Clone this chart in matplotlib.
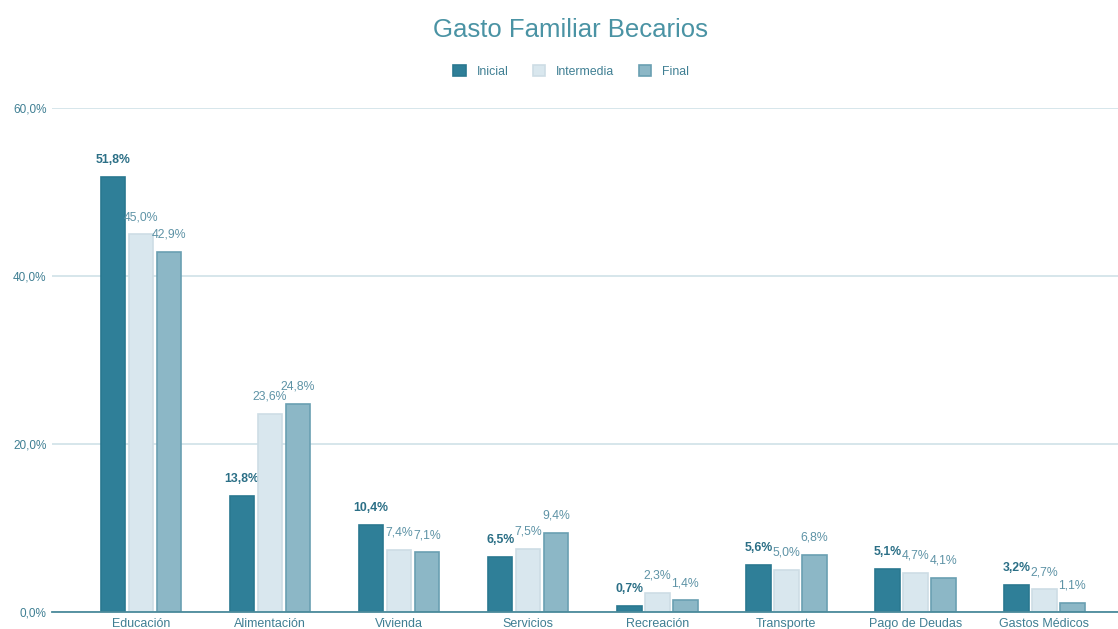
import matplotlib.pyplot as plt
import numpy as np

# données
categorias = ["Educación", "Alimentación", "Vivienda", "Servicios", "Recreación",
              "Transporte", "Pago de Deudas", "Gastos Médicos"]
inicial = [51.8, 13.8, 10.4, 6.5, 0.7, 5.6, 5.1, 3.2]
intermedia = [45.0, 23.6, 7.4, 7.5, 2.3, 5.0, 4.7, 2.7]
final = [42.9, 24.8, 7.1, 9.4, 1.4, 6.8, 4.1, 1.1]
series = ["Inicial", "Intermedia", "Final"]
yticks = [0, 20, 40, 60]

colores = ["#2f7f98", "#d9e7ee", "#8cb7c6"]
bordes = ["#2a7890", "#cddde5", "#6a9fb2"]
col_etiq = ["#2b6f86", "#5e93a6", "#5e93a6"]

plt.rcParams['font.family'] = ['Liberation Sans', 'DejaVu Sans']

fig = plt.figure(figsize=(11.18, 6.29), dpi=100)
ax = fig.add_axes([0.0465, 0.027, 0.9535, 0.801])

x = np.arange(len(categorias))
w = 0.19
paso = 0.217
for i, (nombre, vals) in enumerate(zip(series, [inicial, intermedia, final])):
    pos = x + (i - 1) * paso
    barras = ax.bar(pos, vals, width=w, color=colores[i], edgecolor=bordes[i],
                    linewidth=1.2, label=nombre, zorder=3)
    for b, v in zip(barras, vals):
        ax.annotate(f"{v:.1f}%".replace(".", ","),
                    (b.get_x() + b.get_width() / 2, v),
                    xytext=(0, 8), textcoords="offset points",
                    ha="center", va="bottom", fontsize=8.8,
                    color=col_etiq[i], fontweight="semibold" if i == 0 else "normal")

ax.set_ylim(0, 60)
ax.set_xlim(-0.69, 7.57)
ax.set_yticks(yticks)
ax.set_yticklabels([f"{t:.1f}%".replace(".", ",") for t in yticks],
                   fontsize=8.5, color="#3f7f93")
ax.set_xticks(x)
ax.set_xticklabels(categorias, fontsize=9, color="#3f7f93")
ax.tick_params(axis="x", length=0, pad=4)
ax.tick_params(axis="y", length=0, pad=4)
ax.yaxis.grid(True, color="#cfe1e8", linewidth=1.2, zorder=0)
for s in ["top", "right", "left"]:
    ax.spines[s].set_visible(False)
ax.spines["bottom"].set_color("#4b8a9b")
ax.spines["bottom"].set_linewidth(1.3)
ax.spines["bottom"].set_zorder(4)

fig.text(0.51, 0.953, "Gasto Familiar Becarios", ha="center", va="center",
         fontsize=18.5, color="#4a93a4")
fig.legend(loc="center", bbox_to_anchor=(0.511, 0.886), ncol=3, frameon=False,
           fontsize=8.8, handlelength=1.0, handleheight=1.0, columnspacing=2.0,
           handletextpad=0.9, labelcolor="#3f7f93")

fig.savefig("out.png", dpi=100)
